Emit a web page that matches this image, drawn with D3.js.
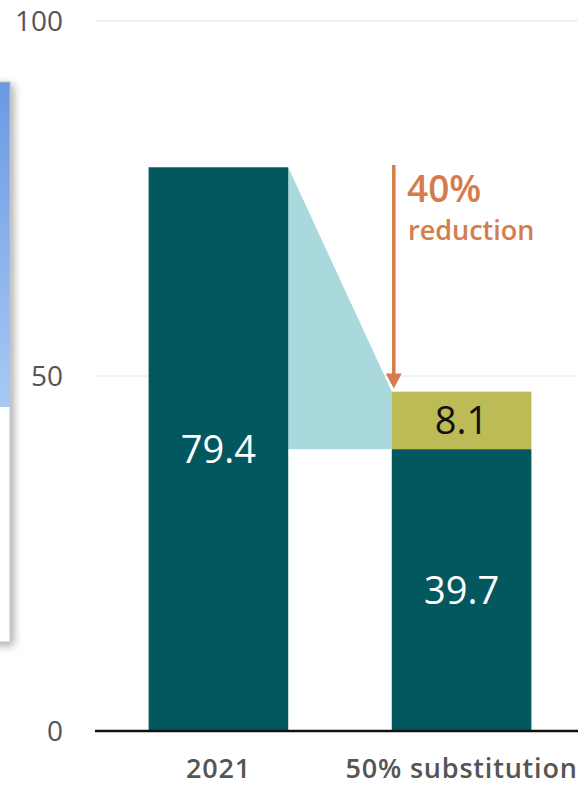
<!DOCTYPE html>
<html><head><meta charset="utf-8">
<script src="https://cdn.jsdelivr.net/npm/d3@7"></script>
<style>body{margin:0;background:#fff}svg{display:block}</style>
</head><body>
<script>
const categories = ["2021", "50% substitution"];
const baseValues = [79.4, 39.7];
const addedValues = [0, 8.1];
const yTicks = [0, 50, 100];
const reductionLabel = ["40%", "reduction"];

const W = 578, H = 785;
const FONT = "Open Sans, sans-serif";
const svg = d3.select("body").append("svg").attr("width", W).attr("height", H);
const defs = svg.append("defs");
const grad = defs.append("linearGradient").attr("id","bg").attr("x1",0).attr("y1",0).attr("x2",0).attr("y2",1);
grad.append("stop").attr("offset","0%").attr("stop-color","#6a99e2");
grad.append("stop").attr("offset","58%").attr("stop-color","#a8c9f5");
grad.append("stop").attr("offset","58%").attr("stop-color","#ffffff");
grad.append("stop").attr("offset","100%").attr("stop-color","#ffffff");
const f = defs.append("filter").attr("id","sh").attr("x","-50%").attr("y","-10%").attr("width","300%").attr("height","120%");
f.append("feDropShadow").attr("dx",3).attr("dy",3).attr("stdDeviation",4).attr("flood-color","#000").attr("flood-opacity",0.35);

// partial panel on the left
svg.append("rect").attr("x",-20).attr("y",82).attr("width",30).attr("height",560)
  .attr("fill","url(#bg)").attr("stroke","#bbb").attr("stroke-width",1).attr("filter","url(#sh)");

const y = d3.scaleLinear().domain([0,100]).range([731,21]);
const x = d3.scaleBand().domain(categories).range([100,580]).paddingInner(0.426).paddingOuter(0.2);

// gridlines
svg.append("g").selectAll("line").data(yTicks.filter(d=>d>0)).join("line")
  .attr("x1",95).attr("x2",W).attr("y1",d=>y(d)).attr("y2",d=>y(d))
  .attr("stroke","#e6e6e6").attr("stroke-width",1);

// y labels
svg.append("g").selectAll("text").data(yTicks).join("text")
  .attr("x",63).attr("y",d=>y(d)+10).attr("text-anchor","end")
  .attr("font-family",FONT).attr("font-size",28).attr("font-weight",500).attr("fill","#555")
  .text(d=>d);

// connector polygon
const x0 = x(categories[0]) + x.bandwidth(), x1 = x(categories[1]);
svg.append("path")
  .attr("d", d3.line()([[x0,y(baseValues[0])],[x1,y(baseValues[1]+addedValues[1])],[x1,y(baseValues[1])],[x0,y(baseValues[1])]]) + "Z")
  .attr("fill","#a9d9dd");

// base bars
svg.append("g").selectAll("rect").data(categories).join("rect")
  .attr("x",d=>x(d)).attr("width",x.bandwidth())
  .attr("y",(d,i)=>y(baseValues[i])).attr("height",(d,i)=>y(0)-y(baseValues[i]))
  .attr("fill","#03585f");
// added segment
svg.append("g").selectAll("rect").data(categories.filter((d,i)=>addedValues[i]>0)).join("rect")
  .attr("x",d=>x(d)).attr("width",x.bandwidth())
  .attr("y",d=>{const i=categories.indexOf(d);return y(baseValues[i]+addedValues[i]);})
  .attr("height",d=>{const i=categories.indexOf(d);return y(baseValues[i])-y(baseValues[i]+addedValues[i]);})
  .attr("fill","#bcbb56");

// value labels
categories.forEach((c,i)=>{
  const cx = x(c)+x.bandwidth()/2;
  const yc = i===0 ? 449 : (y(baseValues[i])+y(0))/2;
  svg.append("text").attr("x",cx).attr("y",yc+14).attr("text-anchor","middle")
    .attr("font-family",FONT).attr("font-size",38).attr("font-weight",500).attr("fill","#fff").text(baseValues[i]);
  if(addedValues[i]>0){
    const ya = (y(baseValues[i])+y(baseValues[i]+addedValues[i]))/2;
    svg.append("text").attr("x",cx).attr("y",ya+14).attr("text-anchor","middle")
      .attr("font-family",FONT).attr("font-size",38).attr("font-weight",500).attr("fill","#111").text(addedValues[i]);
  }
});

// axis baseline
svg.append("line").attr("x1",95).attr("x2",W).attr("y1",y(0)).attr("y2",y(0)).attr("stroke","#111").attr("stroke-width",2.5);

// category labels
svg.append("g").selectAll("text").data(categories).join("text")
  .attr("x",d=>x(d)+x.bandwidth()/2).attr("y",778).attr("text-anchor","middle")
  .attr("font-family",FONT).attr("font-size",27).attr("font-weight",600).attr("letter-spacing",0.8).attr("fill","#555")
  .text(d=>d);

// reduction arrow
const ax = x1 + 2;
const ty = y(baseValues[1]+addedValues[1]) - 3;
svg.append("line").attr("x1",ax).attr("x2",ax).attr("y1",165).attr("y2",ty-12)
  .attr("stroke","#d57c4d").attr("stroke-width",3.5);
svg.append("path").attr("d",d3.line()([[ax-8,ty-15],[ax+8,ty-15],[ax,ty]])+"Z").attr("fill","#d57c4d");
svg.append("text").attr("x",407).attr("y",202).attr("font-family",FONT)
  .attr("font-size",37).attr("font-weight",600).attr("fill","#d57c4d").text(reductionLabel[0]);
svg.append("text").attr("x",408).attr("y",240).attr("font-family",FONT)
  .attr("font-size",27).attr("font-weight",600).attr("fill","#d57c4d").text(reductionLabel[1]);
</script>
</body></html>
